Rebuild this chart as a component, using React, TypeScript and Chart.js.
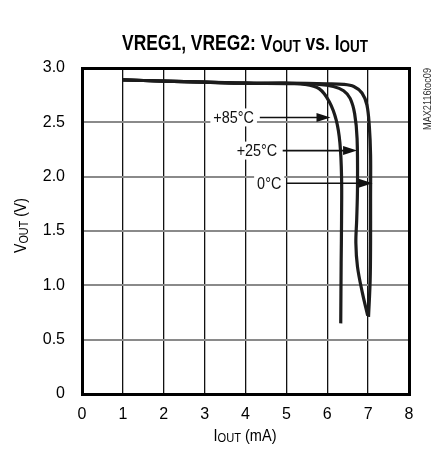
import React, { useEffect, useRef } from "react";
import { Chart, registerables } from "chart.js";

Chart.register(...registerables);

const FONT = '"Liberation Sans", Arial, Helvetica, sans-serif';

// Curves: I_OUT (mA) vs V_OUT (V)
const T0_I = [1, 2, 3, 4, 5, 6, 6.4, 6.65, 6.85, 6.97, 7.03, 7.06, 7.06, 7.06, 7.05, 7.01];
const T0_V = [2.89, 2.88, 2.87, 2.86, 2.86, 2.855, 2.85, 2.83, 2.77, 2.66, 2.46, 2.2, 1.8, 1.4, 1.05, 0.71];

const T25_I = [1, 2, 3, 4, 5, 5.8, 6.15, 6.4, 6.56, 6.67, 6.73, 6.74, 6.72, 6.7, 6.74, 6.86, 6.99];
const T25_V = [2.89, 2.88, 2.87, 2.86, 2.86, 2.85, 2.83, 2.79, 2.72, 2.58, 2.35, 1.9, 1.6, 1.39, 1.17, 0.93, 0.72];

const T85_I = [1, 2, 3, 4, 5, 5.45, 5.8, 6.05, 6.22, 6.31, 6.35, 6.35, 6.34, 6.33];
const T85_V = [2.89, 2.88, 2.87, 2.86, 2.855, 2.85, 2.81, 2.69, 2.52, 2.31, 2.0, 1.6, 1.2, 0.65];

// Annotations
const LABELS = ["+85°C", "+25°C", "0°C"];
const LABEL_I = [3.71, 4.28, 4.58];
const ARROW_V = [2.545, 2.24, 1.94];
const ARROW_FROM = [4.35, 4.91, 4.99];
const ARROW_TO = [6.08, 6.73, 7.11];

const X_TICKS = [0, 1, 2, 3, 4, 5, 6, 7, 8];
const Y_TICK_LABELS = ["0", "0.5", "1.0", "1.5", "2.0", "2.5", "3.0"];

const TITLE = "VREG1, VREG2: V";
const TITLE_MID = " vs. I";
const SUB = "OUT";
const X_TITLE = ["I", "OUT", " (mA)"];
const Y_TITLE = ["V", "OUT", " (V)"];
const SIDE_NOTE = "MAX2116toc09";

type Run = { t: string; sub: boolean };

function drawRuns(
  ctx: CanvasRenderingContext2D,
  runs: Run[],
  mainFont: string,
  subFont: string,
  subDrop: number,
  targetWidth: number
) {
  let total = 0;
  const widths: number[] = [];
  for (const r of runs) {
    ctx.font = r.sub ? subFont : mainFont;
    const w = ctx.measureText(r.t).width;
    widths.push(w);
    total += w;
  }
  const sx = targetWidth / total;
  ctx.save();
  ctx.scale(sx, 1);
  let x = 0;
  runs.forEach((r, i) => {
    ctx.font = r.sub ? subFont : mainFont;
    ctx.fillText(r.t, x, r.sub ? subDrop : 0);
    x += widths[i];
  });
  ctx.restore();
}

const decorPlugin = {
  id: "decor",
  afterDatasetsDraw(chart: any) {
    const ctx: CanvasRenderingContext2D = chart.ctx;
    const xs = chart.scales.x;
    const ys = chart.scales.y;
    ctx.save();
    ctx.textBaseline = "middle";
    ctx.textAlign = "center";
    ctx.font = `16px ${FONT}`;
    for (let i = 0; i < LABELS.length; i++) {
      const cx = xs.getPixelForValue(LABEL_I[i]);
      const cy = ys.getPixelForValue(ARROW_V[i]);
      const w = ctx.measureText(LABELS[i]).width * 0.9;
      ctx.fillStyle = "#fff";
      ctx.fillRect(cx - w / 2 - 3, cy - 9, w + 6, 18);
      ctx.fillStyle = "#111";
      ctx.save();
      ctx.translate(cx, cy + 1);
      ctx.scale(0.9, 1);
      ctx.fillText(LABELS[i], 0, 0);
      ctx.restore();
      // arrow
      const x0 = xs.getPixelForValue(ARROW_FROM[i]);
      const x1 = xs.getPixelForValue(ARROW_TO[i]);
      const head = 14;
      ctx.strokeStyle = "#111";
      ctx.lineWidth = 1.6;
      ctx.beginPath();
      ctx.moveTo(x0, cy);
      ctx.lineTo(x1 - head + 1, cy);
      ctx.stroke();
      ctx.beginPath();
      ctx.moveTo(x1, cy);
      ctx.lineTo(x1 - head, cy - 4.5);
      ctx.lineTo(x1 - head, cy + 4.5);
      ctx.closePath();
      ctx.fill();
    }
    ctx.restore();
  },
  afterDraw(chart: any) {
    const ctx: CanvasRenderingContext2D = chart.ctx;
    const a = chart.chartArea;
    ctx.save();
    // border
    ctx.strokeStyle = "#000";
    ctx.lineWidth = 3;
    ctx.strokeRect(a.left + 0.5, a.top + 0.5, a.right - a.left, a.bottom - a.top);
    ctx.fillStyle = "#000";
    ctx.textBaseline = "alphabetic";
    ctx.textAlign = "left";
    // title
    ctx.save();
    const tw = 246;
    ctx.translate(245 - tw / 2, 49.5);
    drawRuns(
      ctx,
      [
        { t: TITLE, sub: false },
        { t: SUB, sub: true },
        { t: TITLE_MID, sub: false },
        { t: SUB, sub: true },
      ],
      `bold 22px ${FONT}`,
      `bold 17px ${FONT}`,
      2.8,
      tw
    );
    ctx.restore();
    // x title
    ctx.save();
    const xw = 63;
    ctx.translate(245 - xw / 2, 440.5);
    drawRuns(
      ctx,
      [
        { t: X_TITLE[0], sub: false },
        { t: X_TITLE[1], sub: true },
        { t: X_TITLE[2], sub: false },
      ],
      `17px ${FONT}`,
      `13px ${FONT}`,
      1.5,
      xw
    );
    ctx.restore();
    // y title
    ctx.save();
    const yw = 55;
    ctx.translate(26, 253);
    ctx.rotate(-Math.PI / 2);
    drawRuns(
      ctx,
      [
        { t: Y_TITLE[0], sub: false },
        { t: Y_TITLE[1], sub: true },
        { t: Y_TITLE[2], sub: false },
      ],
      `17px ${FONT}`,
      `13px ${FONT}`,
      1.5,
      yw
    );
    ctx.restore();
    // side note
    ctx.save();
    ctx.fillStyle = "#333";
    ctx.translate(431, 130);
    ctx.rotate(-Math.PI / 2);
    ctx.font = `11px ${FONT}`;
    const sw = ctx.measureText(SIDE_NOTE).width;
    ctx.scale(62 / sw, 1);
    ctx.fillText(SIDE_NOTE, 0, 0);
    ctx.restore();
    ctx.restore();
  },
};

function toPts(xs: number[], ys: number[]) {
  return xs.map((x, i) => ({ x, y: ys[i] }));
}

export default function App() {
  const ref = useRef<HTMLCanvasElement | null>(null);
  useEffect(() => {
    if (!ref.current) return;
    const lineStyle = {
      showLine: true,
      borderColor: "#1c1c1c",
      borderWidth: 3.2,
      pointRadius: 0,
      tension: 0.35,
      fill: false,
    };
    const chart = new Chart(ref.current, {
      type: "scatter",
      data: {
        datasets: [
          { label: "0°C", data: toPts(T0_I, T0_V), ...lineStyle },
          { label: "+25°C", data: toPts(T25_I, T25_V), ...lineStyle },
          { label: "+85°C", data: toPts(T85_I, T85_V), ...lineStyle },
        ],
      },
      options: {
        animation: false,
        responsive: false,
        devicePixelRatio: 1,
        layout: { padding: { left: 0, right: 24, top: 68, bottom: 0 } },
        plugins: {
          legend: { display: false },
          tooltip: { enabled: false },
          title: { display: false },
        },
        scales: {
          x: {
            type: "linear",
            min: 0,
            max: 8,
            afterFit: (s: any) => {
              s.height = 59;
            },
            afterBuildTicks: (s: any) => {
              s.ticks = X_TICKS.map((v) => ({ value: v }));
            },
            ticks: {
              color: "#000",
              font: { family: FONT, size: 16 },
              padding: 11,
              maxRotation: 0,
              callback: (v: any) => String(v),
            },
            grid: { color: "#111", lineWidth: 1.3, drawTicks: false },
            border: { display: false },
          },
          y: {
            type: "linear",
            min: 0,
            max: 3,
            afterFit: (s: any) => {
              s.width = 82;
            },
            afterBuildTicks: (s: any) => {
              s.ticks = Y_TICK_LABELS.map((_, i) => ({ value: i * 0.5 }));
            },
            ticks: {
              color: "#000",
              font: { family: FONT, size: 16 },
              padding: 17,
              callback: (_v: any, i: number) => Y_TICK_LABELS[i],
            },
            grid: { color: "#8a8a8a", lineWidth: 2, drawTicks: false },
            border: { display: false },
          },
        },
      },
      plugins: [decorPlugin],
    });
    return () => chart.destroy();
  }, []);
  return (
    <div style={{ position: "fixed", left: 0, top: 0, width: 433, height: 453, background: "#fff" }}>
      <canvas ref={ref} width={433} height={453} style={{ display: "block", width: 433, height: 453 }} />
    </div>
  );
}
